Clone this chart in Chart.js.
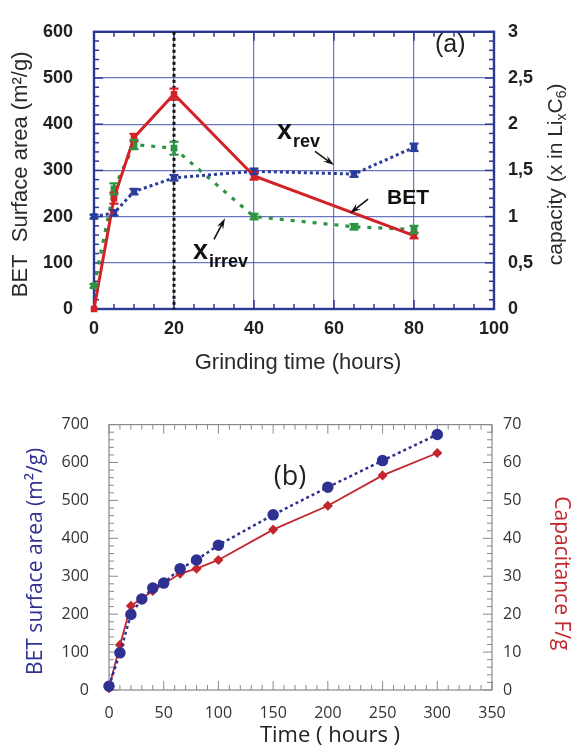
<!DOCTYPE html>
<html>
<head>
<meta charset="utf-8">
<script src="https://cdn.jsdelivr.net/npm/chart.js@4.4.1/dist/chart.umd.min.js"></script>
<style>
  html, body { margin: 0; padding: 0; background: #fff; }
  #wrap { position: relative; width: 575px; height: 747px; overflow: hidden; }
  canvas { position: absolute; left: 0; }
  #chartA { top: 0; }
  #chartB { top: 395px; }
</style>
</head>
<body>
<div id="wrap">
  <canvas id="chartA" width="575" height="380"></canvas>
  <canvas id="chartB" width="575" height="352"></canvas>
</div>
<script>
// ---- (a) grinding time: BET area (left axis) and capacity x in LixC6 (right axis)
const grindHours = [0, 5, 10, 20, 40, 80];
const betArea = [0, 240, 371, 465, 288, 159];
const betErr = [0, 12, 8, 12, 8, 6];
const capHours = [0, 5, 10, 20, 40, 65, 80];
const xRev = [1.0, 1.04, 1.27, 1.42, 1.49, 1.46, 1.75];
const xRevErr = [0.02, 0.03, 0.03, 0.03, 0.03, 0.03, 0.04];
const xIrrev = [0.25, 1.3, 1.78, 1.74, 1.0, 0.89, 0.86];
const xIrrevErr = [0.02, 0.06, 0.05, 0.07, 0.03, 0.03, 0.04];
const capTickLabels = ['0', '0,5', '1', '1,5', '2', '2,5', '3'];
const markerHour = 20;

// ---- (b) time: BET surface area (left) and capacitance F/g (right)
const timeHours = [0, 10, 20, 30, 40, 50, 65, 80, 100, 150, 200, 250, 300];
const betB = [10, 98, 199, 240, 269, 282, 320, 343, 382, 462, 535, 605, 674];
const capTimeHours = [0, 10, 20, 40, 65, 80, 100, 150, 200, 250, 300];
const capacitance = [0.5, 11.9, 22.2, 26.1, 30.7, 32, 34.3, 42.3, 48.6, 56.6, 62.5];

const RED = '#d42027';
const BLUE = '#2a3c9c';
const GREEN = '#2e9444';
const AXIS_A = '#2b3990';
const GRID_A = 'rgba(70, 84, 175, 0.8)';
const BLUE_B = '#2e3192';
const RED_B = '#c1272d';
const AXIS_B = '#8a8a8a';

function pts(xs, ys) { return xs.map((x, i) => ({ x: x, y: ys[i] })); }

function line(ctx, x1, y1, x2, y2) {
  ctx.beginPath(); ctx.moveTo(x1, y1); ctx.lineTo(x2, y2); ctx.stroke();
}

function drawText(ctx, text, x, y, font, color, rot, align) {
  ctx.save();
  ctx.translate(x, y);
  if (rot) ctx.rotate(rot);
  ctx.font = font; ctx.fillStyle = color;
  ctx.textAlign = align || 'center'; ctx.textBaseline = 'middle';
  ctx.fillText(text, 0, 0);
  ctx.restore();
}

// inward ticks on the four sides
function sideTicks(ctx, a, scale, side, step, majorEvery, n) {
  for (let k = 0; k <= n; k++) {
    const v = scale.min + k * step;
    const p = scale.getPixelForValue(v);
    const len = k % majorEvery === 0 ? 9 : 5;
    if (side === 'bottom') line(ctx, p, a.bottom, p, a.bottom - len);
    if (side === 'top') line(ctx, p, a.top, p, a.top + len);
    if (side === 'left') line(ctx, a.left, p, a.left + len, p);
    if (side === 'right') line(ctx, a.right, p, a.right - len, p);
  }
}

function drawErrorBars(chart) {
  const ctx = chart.ctx;
  chart.data.datasets.forEach((ds, di) => {
    if (!ds.errors) return;
    const meta = chart.getDatasetMeta(di);
    const sc = chart.scales[ds.yAxisID];
    ctx.save();
    ctx.strokeStyle = ds.borderColor; ctx.lineWidth = 2.2; ctx.setLineDash([]);
    ds.data.forEach((p, i) => {
      const e = ds.errors[i];
      if (!e) return;
      const px = meta.data[i].x;
      const y1 = sc.getPixelForValue(p.y - e), y2 = sc.getPixelForValue(p.y + e);
      line(ctx, px, y1, px, y2);
      line(ctx, px - 4.5, y1, px + 4.5, y1);
      line(ctx, px - 4.5, y2, px + 4.5, y2);
    });
    ctx.restore();
  });
}

// annotation labels and arrows of (a), in data units of x / left y
const labelsA = [
  { base: 'x', sub: 'rev', x: 45.75, y: 368 },
  { base: 'x', sub: 'irrev', x: 24.75, y: 108 },
  { base: 'BET', sub: '', x: 73.25, y: 228 }
];
const arrowsA = [
  { from: [55.25, 341], to: [60, 311.5] },
  { from: [68.5, 238], to: [64, 207] },
  { from: [30, 150.5], to: [32.75, 196.5] }
];

function arrow(ctx, x1, y1, x2, y2) {
  const ang = Math.atan2(y2 - y1, x2 - x1);
  ctx.lineWidth = 1.6;
  line(ctx, x1, y1, x2 - 6 * Math.cos(ang), y2 - 6 * Math.sin(ang));
  ctx.beginPath();
  ctx.moveTo(x2, y2);
  ctx.lineTo(x2 - 11 * Math.cos(ang) + 3.5 * Math.sin(ang), y2 - 11 * Math.sin(ang) - 3.5 * Math.cos(ang));
  ctx.lineTo(x2 - 7 * Math.cos(ang), y2 - 7 * Math.sin(ang));
  ctx.lineTo(x2 - 11 * Math.cos(ang) - 3.5 * Math.sin(ang), y2 - 11 * Math.sin(ang) + 3.5 * Math.cos(ang));
  ctx.closePath(); ctx.fill();
}

const decorA = {
  id: 'decorA',
  beforeDatasetsDraw(chart) {
    const { ctx, chartArea: a, scales: { x, y, y2 } } = chart;
    ctx.save();
    ctx.strokeStyle = AXIS_A; ctx.lineWidth = 1.5;
    sideTicks(ctx, a, x, 'bottom', 5, 4, 20);
    sideTicks(ctx, a, x, 'top', 5, 4, 20);
    sideTicks(ctx, a, y, 'left', 20, 5, 30);
    sideTicks(ctx, a, y2, 'right', 0.1, 5, 30);
    ctx.lineWidth = 2.4;
    ctx.strokeRect(a.left, a.top, a.right - a.left, a.bottom - a.top);
    const mx = x.getPixelForValue(markerHour);
    ctx.strokeStyle = '#111'; ctx.lineWidth = 3; ctx.setLineDash([3, 3]);
    line(ctx, mx, a.top, mx, a.bottom);
    ctx.restore();
  },
  afterDatasetsDraw(chart) {
    const { ctx, chartArea: a, scales: { x, y } } = chart;
    drawErrorBars(chart);
    ctx.save();
    ctx.fillStyle = '#111'; ctx.strokeStyle = '#111';
    labelsA.forEach(l => {
      const px = x.getPixelForValue(l.x), py = y.getPixelForValue(l.y);
      ctx.textBaseline = 'alphabetic'; ctx.textAlign = 'left';
      ctx.font = l.sub ? 'bold 27px "Liberation Sans"' : 'bold 21px "Liberation Sans"';
      ctx.fillText(l.base, px, py);
      if (l.sub) {
        const w = ctx.measureText(l.base).width;
        ctx.font = 'bold 18px "Liberation Sans"';
        ctx.fillText(l.sub, px + w + 1, py + 8);
      }
    });
    arrowsA.forEach(r => {
      arrow(ctx, x.getPixelForValue(r.from[0]), y.getPixelForValue(r.from[1]),
        x.getPixelForValue(r.to[0]), y.getPixelForValue(r.to[1]));
    });
    // panel label
    ctx.font = '25px "Liberation Sans"'; ctx.textAlign = 'left'; ctx.textBaseline = 'alphabetic';
    ctx.fillStyle = '#222';
    ctx.fillText('(a)', 435, 52);
    ctx.restore();

    // axis titles
    const cy = (a.top + a.bottom) / 2 + 4;
    drawText(ctx, 'BET  Surface area (m²/g)', 21, cy, '22px "Liberation Sans"', '#2a2a2a', -Math.PI / 2);
    drawText(ctx, 'Grinding time (hours)', (a.left + a.right) / 2 + 4, 363, '22px "Liberation Sans"', '#2a2a2a', 0);
    // right title with subscripts
    const parts = [['capacity (x in Li', 0], ['x', 1], ['C', 0], ['6', 1], [')', 0]];
    ctx.save();
    ctx.translate(556, cy);
    ctx.rotate(-Math.PI / 2);
    ctx.fillStyle = '#2a2a2a'; ctx.textBaseline = 'middle'; ctx.textAlign = 'left';
    let total = 0;
    parts.forEach(p => { ctx.font = p[1] ? '14px "Liberation Sans"' : '21px "Liberation Sans"'; total += ctx.measureText(p[0]).width; });
    let cx = -total / 2;
    parts.forEach(p => {
      ctx.font = p[1] ? '14px "Liberation Sans"' : '21px "Liberation Sans"';
      ctx.fillText(p[0], cx, p[1] ? 6 : 0);
      cx += ctx.measureText(p[0]).width;
    });
    ctx.restore();
  }
};

const tickFontA = { family: 'Liberation Sans', size: 18, weight: 'bold' };

new Chart(document.getElementById('chartA'), {
  type: 'line',
  data: {
    datasets: [
      {
        label: 'BET', data: pts(grindHours, betArea), errors: betErr, yAxisID: 'y',
        borderColor: RED, backgroundColor: RED, borderWidth: 3,
        pointStyle: 'rect', pointRadius: 2.5, tension: 0, clip: false
      },
      {
        label: 'x rev', data: pts(capHours, xRev), errors: xRevErr, yAxisID: 'y2',
        borderColor: BLUE, backgroundColor: BLUE, borderWidth: 3, borderDash: [3, 3],
        pointStyle: 'rect', pointRadius: 2.5, tension: 0, clip: false
      },
      {
        label: 'x irrev', data: pts(capHours, xIrrev), errors: xIrrevErr, yAxisID: 'y2',
        borderColor: GREEN, backgroundColor: GREEN, borderWidth: 3.2, borderDash: [4, 7],
        pointStyle: 'rect', pointRadius: 2.5, tension: 0, clip: false
      }
    ]
  },
  options: {
    responsive: false,
    animation: false,
    layout: { padding: { top: 22, left: 0, right: 0, bottom: 0 } },
    plugins: { legend: { display: false }, tooltip: { enabled: false } },
    scales: {
      x: {
        type: 'linear', position: 'bottom', min: 0, max: 100,
        afterFit: s => { s.height = 71; },
        ticks: { stepSize: 20, padding: 9, font: tickFontA, color: '#231f20', maxRotation: 0 },
        grid: { color: GRID_A, lineWidth: 1.2, drawTicks: false },
        border: { display: false }
      },
      y: {
        position: 'left', min: 0, max: 600,
        afterFit: s => { s.width = 94; },
        ticks: { stepSize: 100, padding: 21, font: tickFontA, color: '#231f20' },
        grid: { color: GRID_A, lineWidth: 1.2, drawTicks: false },
        border: { display: false }
      },
      y2: {
        position: 'right', min: 0, max: 3,
        afterFit: s => { s.width = 81; },
        ticks: { stepSize: 0.5, padding: 14, font: tickFontA, color: '#231f20',
          callback: (v, i) => capTickLabels[i] },
        grid: { display: false, drawTicks: false },
        border: { display: false }
      }
    }
  },
  plugins: [decorA]
});

// ---- chart (b)
const decorB = {
  id: 'decorB',
  beforeDatasetsDraw(chart) {
    const { ctx, chartArea: a, scales: { x, y, y2 } } = chart;
    ctx.save();
    ctx.strokeStyle = AXIS_B; ctx.lineWidth = 1;
    sideTicks(ctx, a, x, 'bottom', 10, 5, 35);
    sideTicks(ctx, a, x, 'top', 10, 5, 35);
    sideTicks(ctx, a, y, 'left', 20, 5, 35);
    sideTicks(ctx, a, y2, 'right', 2, 5, 35);
    ctx.lineWidth = 1.2;
    ctx.strokeRect(a.left, a.top, a.right - a.left, a.bottom - a.top);
    ctx.restore();
  },
  afterDatasetsDraw(chart) {
    const { ctx, chartArea: a } = chart;
    const cy = (a.top + a.bottom) / 2;
    drawText(ctx, 'BET surface area (m²/g)', 36, cy + 4, '21px "Open Sans"', BLUE_B, -Math.PI / 2);
    drawText(ctx, 'Capacitance F/g', 561, cy + 16, '21px "Open Sans"', RED_B, Math.PI / 2);
    drawText(ctx, 'Time ( hours )', 330, 341, '22px "Open Sans"', '#222', 0);
    drawText(ctx, '(b)', 290, 82, '27px "Open Sans"', '#222', 0);
  }
};

const tickFontB = { family: 'Open Sans', size: 16 };

new Chart(document.getElementById('chartB'), {
  type: 'line',
  data: {
    datasets: [
      {
        label: 'BET surface area', data: pts(timeHours, betB), yAxisID: 'y',
        borderColor: BLUE_B, backgroundColor: BLUE_B, borderWidth: 2.5, borderDash: [3, 3],
        pointStyle: 'circle', pointRadius: 4.5, tension: 0, clip: false
      },
      {
        label: 'Capacitance', data: pts(capTimeHours, capacitance), yAxisID: 'y2',
        borderColor: RED_B, backgroundColor: RED_B, borderWidth: 1.8,
        pointStyle: 'rectRot', pointRadius: 3.8, tension: 0, clip: false
      }
    ]
  },
  options: {
    responsive: false,
    animation: false,
    layout: { padding: { top: 24, left: 0, right: 0, bottom: 0 } },
    plugins: { legend: { display: false }, tooltip: { enabled: false } },
    scales: {
      x: {
        type: 'linear', position: 'bottom', min: 0, max: 350,
        afterFit: s => { s.height = 57; },
        ticks: { stepSize: 50, padding: 14, font: tickFontB, color: '#333', maxRotation: 0 },
        grid: { display: false, drawTicks: false },
        border: { display: false }
      },
      y: {
        position: 'left', min: 0, max: 700,
        afterFit: s => { s.width = 109; },
        ticks: { stepSize: 100, padding: 20, font: tickFontB, color: '#333' },
        grid: { display: false, drawTicks: false },
        border: { display: false }
      },
      y2: {
        position: 'right', min: 0, max: 70,
        afterFit: s => { s.width = 83; },
        ticks: { stepSize: 10, padding: 11, font: tickFontB, color: '#333' },
        grid: { display: false, drawTicks: false },
        border: { display: false }
      }
    }
  },
  plugins: [decorB]
});
</script>
</body>
</html>
